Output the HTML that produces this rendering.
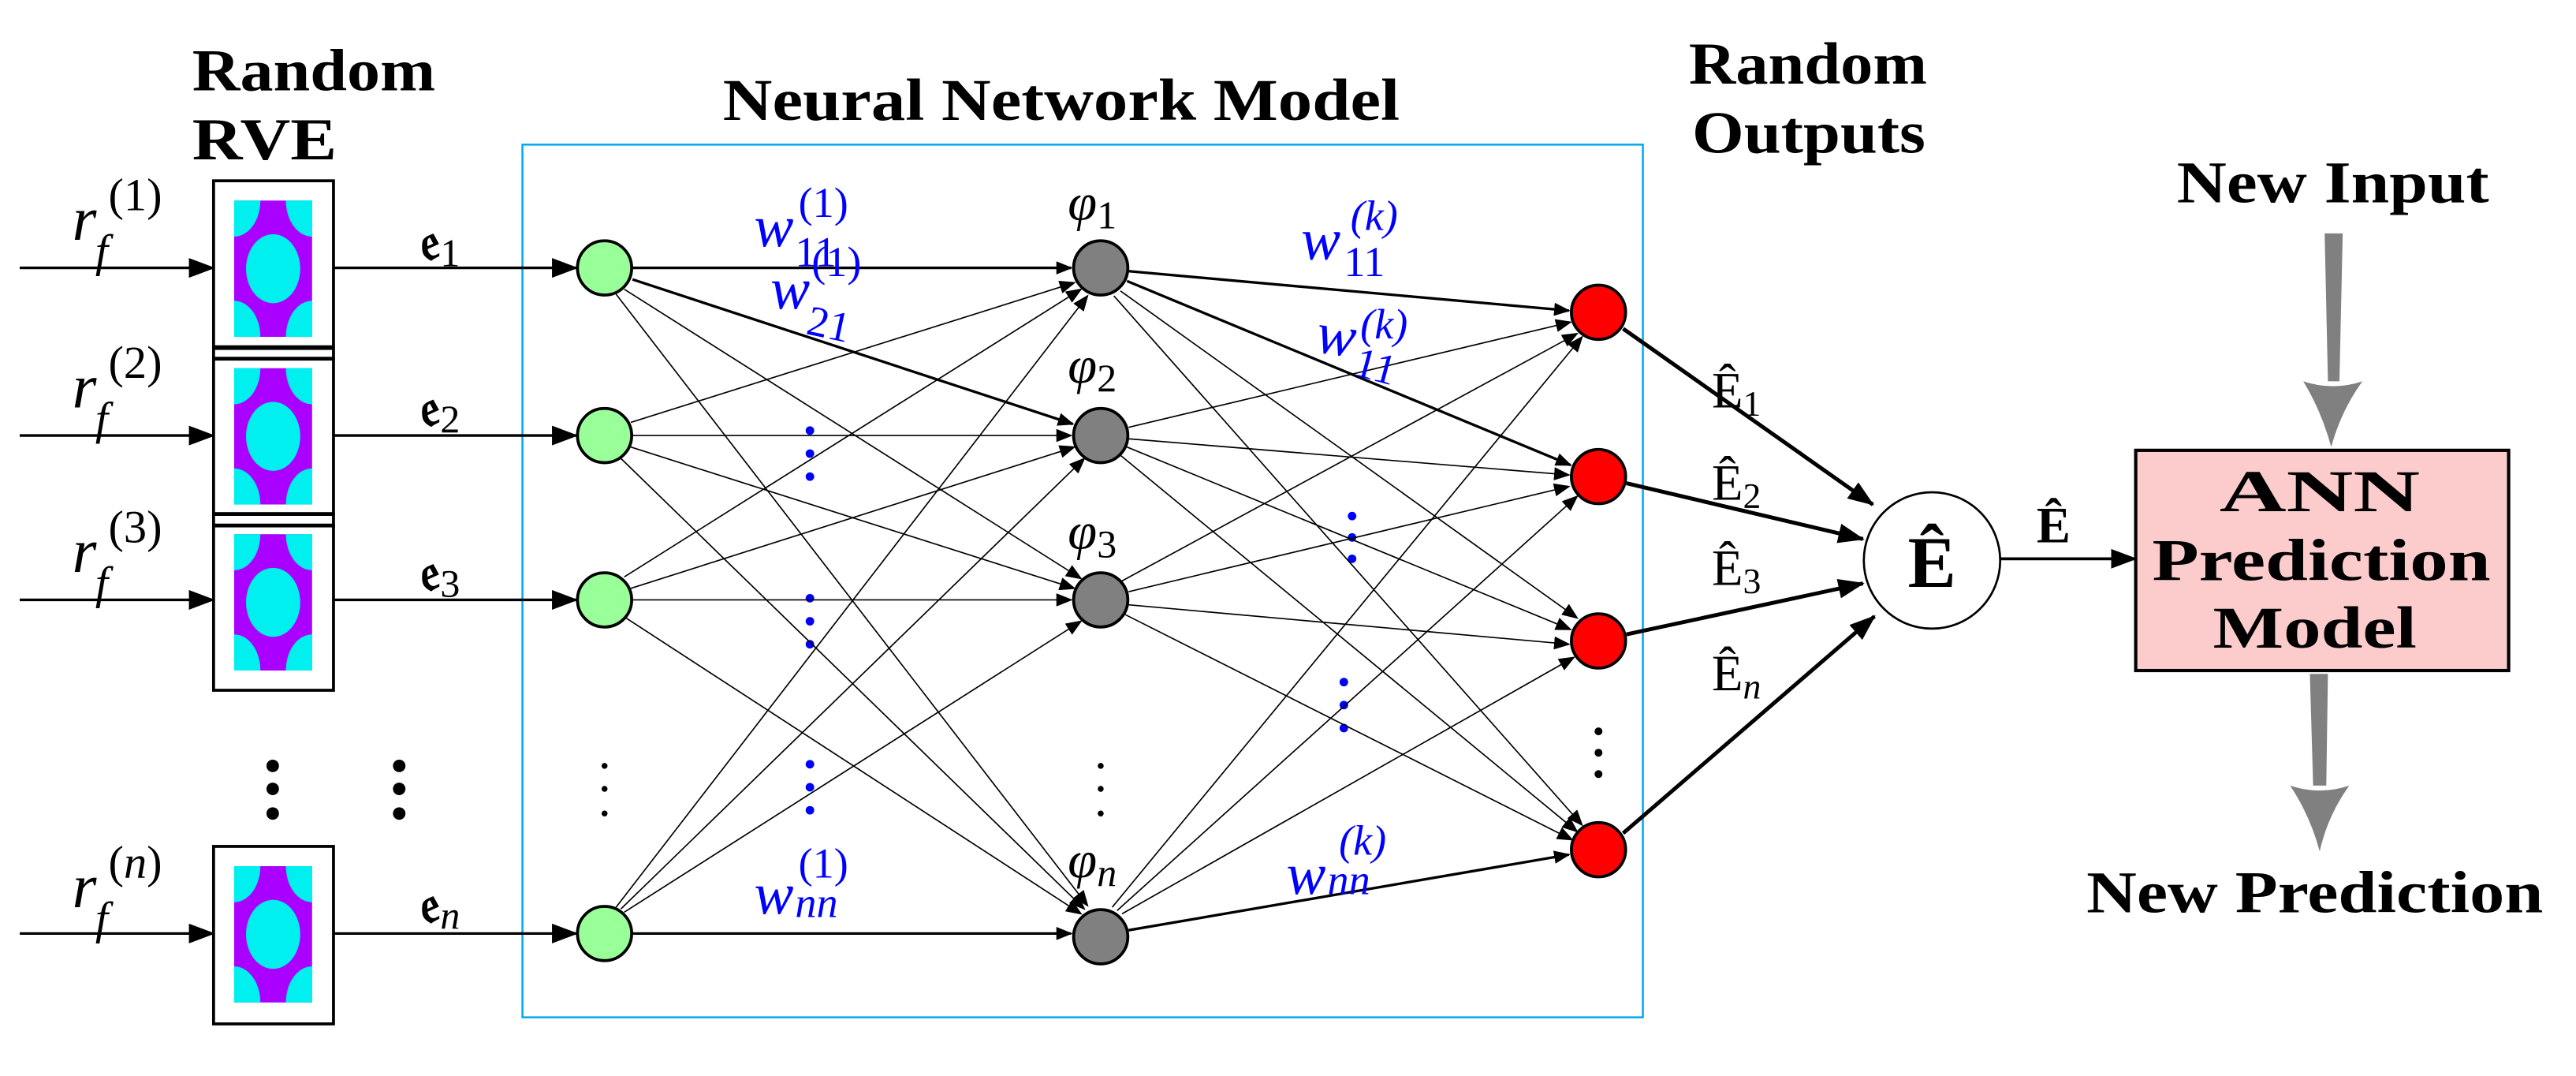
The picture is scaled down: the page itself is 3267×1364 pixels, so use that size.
<!DOCTYPE html>
<html><head><meta charset="utf-8"><style>
html,body{margin:0;padding:0;background:#fff;}
svg{display:block;}
text{font-family:"Liberation Serif",serif;}
.b{font-weight:bold;font-size:36px;}
.m{font-style:italic;font-size:38px;}
.blue{fill:#0000ff;}
</style></head><body>
<svg width="3267" height="1364" viewBox="0 0 1568 654.7" preserveAspectRatio="none" xmlns="http://www.w3.org/2000/svg">
<defs>
<marker id="a" markerWidth="10" markerHeight="8" refX="9" refY="4" orient="auto" markerUnits="userSpaceOnUse"><path d="M0,0 L10,4 L0,8 Z" fill="#000"/></marker>
<marker id="al" markerWidth="16" markerHeight="12" refX="15" refY="6" orient="auto" markerUnits="userSpaceOnUse"><path d="M0,0 L16,6 L0,12 Z" fill="#000"/></marker>
<g id="rve">
<rect x="0" y="0" width="47.5" height="83" fill="#aa00ff"/>
<ellipse cx="23.75" cy="41.5" rx="16.5" ry="21" fill="#00f0f0"/>
<ellipse cx="0" cy="0" rx="16" ry="22" fill="#00f0f0"/>
<ellipse cx="47.5" cy="0" rx="16" ry="22" fill="#00f0f0"/>
<ellipse cx="0" cy="83" rx="16" ry="22" fill="#00f0f0"/>
<ellipse cx="47.5" cy="83" rx="16" ry="22" fill="#00f0f0"/>
</g>
<clipPath id="c"><rect x="0" y="0" width="47.5" height="83"/></clipPath>
</defs>

<!-- titles -->
<text class="b" x="117" y="55" textLength="148" lengthAdjust="spacingAndGlyphs">Random</text>
<text class="b" x="117" y="97" textLength="88" lengthAdjust="spacingAndGlyphs">RVE</text>
<text class="b" x="440" y="73" textLength="412" lengthAdjust="spacingAndGlyphs">Neural Network Model</text>
<text class="b" x="1028" y="51" textLength="145" lengthAdjust="spacingAndGlyphs">Random</text>
<text class="b" x="1030" y="93" textLength="142" lengthAdjust="spacingAndGlyphs">Outputs</text>
<text class="b" x="1325" y="123" textLength="190" lengthAdjust="spacingAndGlyphs">New Input</text>
<text class="b" x="1270" y="555" textLength="278" lengthAdjust="spacingAndGlyphs">New Prediction</text>

<!-- blue box -->
<rect x="318" y="88" width="682" height="531" fill="none" stroke="#00a8f0" stroke-width="1.2"/>

<!-- RVE boxes -->
<g fill="none" stroke="#000" stroke-width="1.8">
<rect x="130" y="110" width="73" height="101"/>
<rect x="130" y="212" width="73" height="6"/>
<rect x="130" y="218.5" width="73" height="94"/>
<rect x="130" y="313" width="73" height="6.5"/>
<rect x="130" y="320" width="73" height="100"/>
<rect x="130" y="515" width="73" height="108"/>
</g>
<g clip-path="url(#c)" transform="translate(142.5,122)"><use href="#rve"/></g>
<g clip-path="url(#c)" transform="translate(142.5,224)"><use href="#rve"/></g>
<g clip-path="url(#c)" transform="translate(142.5,325)"><use href="#rve"/></g>
<g clip-path="url(#c)" transform="translate(142.5,527)"><use href="#rve"/></g>

<!-- input arrows -->
<g stroke="#000" stroke-width="1.6" marker-end="url(#al)">
<line x1="12" y1="163" x2="130" y2="163"/><line x1="12" y1="265" x2="130" y2="265"/>
<line x1="12" y1="365" x2="130" y2="365"/><line x1="12" y1="568" x2="130" y2="568"/>
<line x1="203" y1="163" x2="351" y2="163"/><line x1="203" y1="265" x2="351" y2="265"/>
<line x1="203" y1="365" x2="351" y2="365"/><line x1="203" y1="568" x2="351" y2="568"/>
</g>
<!-- r_f labels -->
<g>
<text class="m" x="44" y="146">r</text><text font-style="italic" font-size="28" x="58" y="162">f</text><text x="66" y="128" font-size="28">(1)</text>
<text class="m" x="44" y="248">r</text><text font-style="italic" font-size="28" x="58" y="264">f</text><text x="66" y="230" font-size="28">(2)</text>
<text class="m" x="44" y="348">r</text><text font-style="italic" font-size="28" x="58" y="364">f</text><text x="66" y="330" font-size="28">(3)</text>
<text class="m" x="44" y="552">r</text><text font-style="italic" font-size="28" x="58" y="568">f</text><text x="66" y="534" font-size="28">(<tspan font-style="italic">n</tspan>)</text>
</g>
<g font-size="32" font-weight="bold">
<text x="256" y="158">𝔢<tspan font-size="24" font-weight="normal" dy="4">1</tspan></text>
<text x="256" y="259">𝔢<tspan font-size="24" font-weight="normal" dy="4">2</tspan></text>
<text x="256" y="359">𝔢<tspan font-size="24" font-weight="normal" dy="4">3</tspan></text>
<text x="256" y="561">𝔢<tspan font-size="24" font-weight="normal" dy="4" font-style="italic">n</tspan></text>
</g>
<!-- dots -->
<g fill="#000">
<circle cx="166" cy="466" r="3.8"/><circle cx="166" cy="480" r="3.8"/><circle cx="166" cy="495" r="3.8"/>
<circle cx="243" cy="466" r="3.8"/><circle cx="243" cy="480" r="3.8"/><circle cx="243" cy="495" r="3.8"/>
<circle cx="368" cy="466" r="1.8"/><circle cx="368" cy="480" r="1.8"/><circle cx="368" cy="495" r="1.8"/>
<circle cx="670" cy="466" r="1.8"/><circle cx="670" cy="480" r="1.8"/><circle cx="670" cy="495" r="1.8"/>
<circle cx="973" cy="445" r="2.4"/><circle cx="973" cy="458" r="2.4"/><circle cx="973" cy="471" r="2.4"/>
</g>
<g fill="#0000ff">
<circle cx="493" cy="262" r="2.6"/><circle cx="493" cy="276" r="2.6"/><circle cx="493" cy="290" r="2.6"/>
<circle cx="493" cy="364" r="2.6"/><circle cx="493" cy="378" r="2.6"/><circle cx="493" cy="392" r="2.6"/>
<circle cx="493" cy="465" r="2.6"/><circle cx="493" cy="479" r="2.6"/><circle cx="493" cy="493" r="2.6"/>
<circle cx="823" cy="314" r="2.6"/><circle cx="823" cy="327" r="2.6"/><circle cx="823" cy="340" r="2.6"/>
<circle cx="818" cy="415" r="2.6"/><circle cx="818" cy="429" r="2.6"/><circle cx="818" cy="443" r="2.6"/>
</g>

<!-- input->hidden edges -->
<g stroke="#000" stroke-width="0.8" marker-end="url(#a)">
<line x1="385" y1="163" x2="652" y2="163" stroke-width="1.6"/>
<line x1="385" y1="170" x2="653" y2="258" stroke-width="1.6"/>
<line x1="380" y1="176" x2="658" y2="352"/>
<line x1="375" y1="179" x2="662" y2="551"/>
<line x1="384" y1="257" x2="654" y2="172"/>
<line x1="385" y1="265" x2="652" y2="265"/>
<line x1="384" y1="272" x2="654" y2="358"/>
<line x1="378" y1="279" x2="660" y2="553"/>
<line x1="380" y1="351" x2="658" y2="176"/>
<line x1="384" y1="358" x2="654" y2="272"/>
<line x1="385" y1="365" x2="652" y2="365"/>
<line x1="381" y1="376" x2="658" y2="556"/>
<line x1="375" y1="552" x2="662" y2="180"/>
<line x1="378" y1="553" x2="660" y2="279"/>
<line x1="380" y1="555" x2="658" y2="378"/>
<line x1="385" y1="568" x2="652" y2="568" stroke-width="1.6"/>
</g>
<!-- hidden->output edges -->
<g stroke="#000" stroke-width="0.8" marker-end="url(#a)">
<line x1="687" y1="165" x2="955" y2="189" stroke-width="1.6"/>
<line x1="686" y1="171" x2="956" y2="283" stroke-width="1.6"/>
<line x1="682" y1="177" x2="960" y2="376"/>
<line x1="678" y1="180" x2="963" y2="502"/>
<line x1="687" y1="260" x2="956" y2="196"/>
<line x1="687" y1="267" x2="955" y2="289"/>
<line x1="686" y1="272" x2="956" y2="383"/>
<line x1="682" y1="277" x2="960" y2="506"/>
<line x1="682" y1="354" x2="960" y2="203"/>
<line x1="687" y1="360" x2="955" y2="296"/>
<line x1="687" y1="368" x2="955" y2="392"/>
<line x1="685" y1="374" x2="957" y2="511"/>
<line x1="677" y1="552" x2="963" y2="205"/>
<line x1="680" y1="554" x2="960" y2="302"/>
<line x1="683" y1="556" x2="958" y2="400"/>
<line x1="687" y1="566" x2="955" y2="520" stroke-width="1.6"/>
</g>
<!-- output->E -->
<g stroke="#000" stroke-width="2.4" marker-end="url(#al)">
<line x1="988" y1="200" x2="1140" y2="307"/>
<line x1="990" y1="294" x2="1134" y2="328"/>
<line x1="990" y1="386" x2="1134" y2="355"/>
<line x1="988" y1="507" x2="1141" y2="375"/>
</g>
<line x1="1217" y1="340" x2="1300" y2="340" stroke="#000" stroke-width="1.8" marker-end="url(#al)"/>

<!-- nodes -->
<g stroke="#000" stroke-width="1.8">
<circle cx="368" cy="163" r="16.5" fill="#99ff99"/><circle cx="368" cy="265" r="16.5" fill="#99ff99"/>
<circle cx="368" cy="365" r="16.5" fill="#99ff99"/><circle cx="368" cy="568" r="16.5" fill="#99ff99"/>
<circle cx="670" cy="163" r="16.5" fill="#808080"/><circle cx="670" cy="265" r="16.5" fill="#808080"/>
<circle cx="670" cy="365" r="16.5" fill="#808080"/><circle cx="670" cy="570" r="16.5" fill="#808080"/>
<circle cx="973" cy="190" r="16.5" fill="#ff0000"/><circle cx="973" cy="290" r="16.5" fill="#ff0000"/>
<circle cx="973" cy="390" r="16.5" fill="#ff0000"/><circle cx="973" cy="517" r="16.5" fill="#ff0000"/>
</g>
<ellipse cx="1176" cy="341" rx="41.5" ry="41.5" fill="#fff" stroke="#000" stroke-width="1.3"/>
<text x="1176" y="357" text-anchor="middle" font-size="44" font-weight="bold">Ê</text>

<!-- phi labels -->
<g font-size="32">
<text font-style="italic" x="650" y="134">φ<tspan font-size="24" font-style="normal" dy="5">1</tspan></text>
<text font-style="italic" x="650" y="233">φ<tspan font-size="24" font-style="normal" dy="5">2</tspan></text>
<text font-style="italic" x="650" y="334">φ<tspan font-size="24" font-style="normal" dy="5">3</tspan></text>
<text font-style="italic" x="650" y="534">φ<tspan font-size="24" dy="5">n</tspan></text>
</g>
<!-- weights -->
<g class="blue">
<text font-style="italic" font-size="36" x="459" y="150">w</text><text x="484" y="162" font-size="26">11</text><text x="486" y="132" font-size="26">(1)</text>
<text font-style="italic" font-size="36" x="469" y="188">w</text><text x="490" y="203" font-size="26" transform="rotate(12 490 203)">21</text><text x="494" y="168" font-size="26">(1)</text>
<text font-style="italic" font-size="36" x="792" y="158">w</text><text x="818" y="168" font-size="26">11</text><text x="822" y="140" font-size="26" font-style="italic">(k)</text>
<text font-style="italic" font-size="36" x="800" y="214" transform="rotate(8 800 214)">w</text><text x="823" y="228" font-size="26" transform="rotate(15 823 228)">11</text><text x="828" y="206" font-size="26" font-style="italic">(k)</text>
<text font-style="italic" font-size="36" x="459" y="556">w</text><text x="484" y="558" font-size="26" font-style="italic">nn</text><text x="486" y="534" font-size="26">(1)</text>
<text font-style="italic" font-size="36" x="783" y="544">w</text><text x="808" y="544" font-size="26" font-style="italic">nn</text><text x="815" y="520" font-size="26" font-style="italic">(k)</text>
</g>
<!-- E hat labels -->
<g font-size="31">
<text x="1042" y="248">Ê<tspan font-size="22" dy="5">1</tspan></text>
<text x="1042" y="304">Ê<tspan font-size="22" dy="5">2</tspan></text>
<text x="1042" y="356">Ê<tspan font-size="22" dy="5">3</tspan></text>
<text x="1042" y="420">Ê<tspan font-size="22" dy="5" font-style="italic">n</tspan></text>
</g>
<text x="1250" y="330" text-anchor="middle" font-size="31" font-weight="bold">Ê</text>

<!-- ANN box -->
<rect x="1300" y="274" width="227" height="134" fill="#fccccc" stroke="#000" stroke-width="2"/>
<text class="b" x="1351" y="311" textLength="122" lengthAdjust="spacingAndGlyphs">ANN</text>
<text class="b" x="1310" y="353" textLength="206" lengthAdjust="spacingAndGlyphs">Prediction</text>
<text class="b" x="1347" y="394" textLength="124" lengthAdjust="spacingAndGlyphs">Model</text>

<!-- gray arrows -->
<polygon points="1415,142 1426,142 1424,232 1417,232" fill="#808080"/>
<path d="M1402,232 Q1420,238 1438,232 Q1425,250 1419,272 Q1413,250 1402,232Z" fill="#808080"/>
<polygon points="1406,410 1417,410 1416,478 1408,478" fill="#808080"/>
<path d="M1394,478 Q1412,484 1430,478 Q1417,496 1412,518 Q1406,496 1394,478Z" fill="#808080"/>
</svg>
</body></html>
